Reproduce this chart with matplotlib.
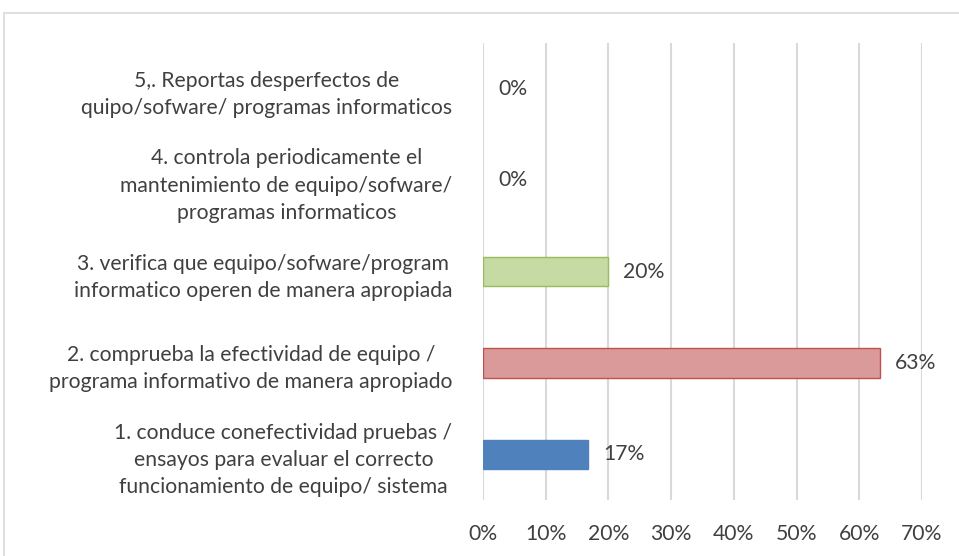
import matplotlib
matplotlib.use("Agg")
import matplotlib.pyplot as plt
from matplotlib.patches import Rectangle

categories = [
    "1. conduce conefectividad pruebas /\nensayos para evaluar el correcto\nfuncionamiento de equipo/ sistema",
    "2. comprueba la efectividad de equipo /\nprograma informativo de manera apropiado",
    "3. verifica que equipo/sofware/program\ninformatico operen de manera apropiada",
    "4. controla periodicamente el\nmantenimiento de equipo/sofware/\nprogramas informaticos",
    "5,. Reportas desperfectos de\nquipo/sofware/ programas informaticos",
]
values = [0.167, 0.633, 0.20, 0.0, 0.0]
labels = ["17%", "63%", "20%", "0%", "0%"]
xticks = [0, 0.1, 0.2, 0.3, 0.4, 0.5, 0.6, 0.7]
xticklabels = ["0%", "10%", "20%", "30%", "40%", "50%", "60%", "70%"]

faces = ["#4F81BD", "#D99A99", "#C6DAA3", "#C6DAA3", "#C6DAA3"]
edges = ["#4F81BD", "#C0504D", "#9BBB59", "#9BBB59", "#9BBB59"]

plt.rcParams['font.family'] = ['Lato', 'DejaVu Sans']
txt = "#404040"
fs = 15.2

fig = plt.figure(figsize=(9.59, 5.56), dpi=100)
fig.patches.append(Rectangle((4/959, -0.1), 2.0, 1.1 - 13/556, transform=fig.transFigure,
                             fill=False, edgecolor="#D9D9D9", linewidth=1.2))
ax = fig.add_axes([483/959, 1-500/556, (922-483)/959, (500-43)/556])

y = range(len(categories))
lws = [1.0 if v > 0 else 0 for v in values]
ax.barh(y, values, height=0.32, color=faces, edgecolor=edges, linewidth=lws, zorder=3)
for yi, v, lab in zip(y, values, labels):
    ax.text(v + 0.024, yi, lab, va="center", ha="left", fontsize=fs, color=txt)

ax.set_xlim(0, 0.7)
ax.set_ylim(-0.5, 4.5)
ax.set_xticks(xticks)
ax.set_xticklabels(xticklabels, fontsize=fs, color=txt)
ax.set_yticks(list(y))
ax.set_yticklabels(categories, fontsize=fs, color=txt, multialignment="center", linespacing=1.45)
ax.tick_params(axis="both", length=0)
ax.tick_params(axis="x", pad=17)
ax.tick_params(axis="y", pad=22)
ax.grid(axis="x", color="#D9D9D9", linewidth=1.5, zorder=0)
for s in ax.spines.values():
    s.set_visible(False)

fig.savefig("out.png", dpi=100)
